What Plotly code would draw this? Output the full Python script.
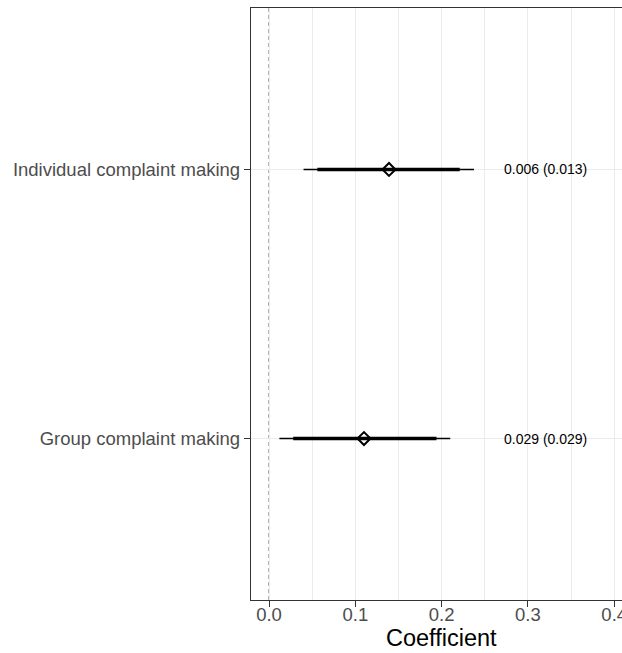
import plotly.graph_objects as go

# ---- data ----
categories = ["Group complaint making", "Individual complaint making"]
estimates = [0.110, 0.139]
ci_outer_low = [0.012, 0.040]
ci_outer_high = [0.210, 0.2375]
ci_inner_low = [0.028, 0.056]
ci_inner_high = [0.194, 0.221]
labels = ["0.029 (0.029)", "0.006 (0.013)"]
label_x = 0.32
x_ticks = [0.0, 0.1, 0.2, 0.3, 0.4]
x_tick_text = ["0.0", "0.1", "0.2", "0.3", "0.4"]

FONT = "Liberation Sans, Arial, sans-serif"

fig = go.Figure()

for i, cat in enumerate(categories):
    fig.add_trace(go.Scatter(
        x=[ci_outer_low[i], ci_outer_high[i]], y=[cat, cat], mode="lines",
        line=dict(color="black", width=1.5), showlegend=False, hoverinfo="skip"))
    fig.add_trace(go.Scatter(
        x=[ci_inner_low[i], ci_inner_high[i]], y=[cat, cat], mode="lines",
        line=dict(color="black", width=3.5), showlegend=False, hoverinfo="skip"))

fig.add_trace(go.Scatter(
    x=estimates, y=categories, mode="markers",
    marker=dict(symbol="diamond-open", size=10, color="black",
                line=dict(color="black", width=2)),
    showlegend=False))

for i, cat in enumerate(categories):
    fig.add_annotation(x=label_x, y=cat, xref="x", yref="y", text=labels[i],
                       showarrow=False, xanchor="center", yanchor="middle",
                       font=dict(family=FONT, size=14, color="black"))

# zero reference line
fig.add_shape(type="line", x0=0, x1=0, xref="x", y0=0, y1=1, yref="paper",
              line=dict(color="#999999", width=1.5, dash="4px,3px"), layer="below")

# x axis title (centered on the full, partly clipped panel)
fig.add_annotation(x=0.5148, y=-0.0642, xref="paper", yref="paper", text="Coefficient",
                   showarrow=False, xanchor="center", yanchor="middle",
                   font=dict(family=FONT, size=23.5, color="black"))

fig.update_layout(
    width=622, height=653,
    margin=dict(l=251, r=0, t=8, b=53, autoexpand=False),
    paper_bgcolor="white", plot_bgcolor="white",
    font=dict(family=FONT),
    dragmode=False,
    xaxis=dict(
        range=[-0.0209, 0.409], tickmode="array", tickvals=x_ticks, ticktext=x_tick_text,
        showgrid=True, gridcolor="#ebebeb", gridwidth=1.1,
        minor=dict(tickmode="array", tickvals=[0.05, 0.15, 0.25, 0.35],
                   showgrid=True, gridcolor="#ebebeb", gridwidth=0.6),
        zeroline=False, showline=True, mirror=True, linecolor="#333333", linewidth=1.3,
        ticks="outside", ticklen=6, tickcolor="#333333", tickwidth=1.1,
        tickfont=dict(family=FONT, size=18.5, color="#4d4d4d"),
        ticklabeloverflow="allow", ticklabelstandoff=-8,
        automargin=False),
    yaxis=dict(
        type="category", categoryorder="array", categoryarray=categories,
        range=[-0.6, 1.6],
        showgrid=True, gridcolor="#ebebeb", gridwidth=1.1,
        zeroline=False, showline=True, mirror=False, linecolor="#333333", linewidth=1.3,
        ticks="outside", ticklen=6, tickcolor="#333333", tickwidth=1.1,
        tickfont=dict(family=FONT, size=18.5, color="#4d4d4d"),
        automargin=False),
)

fig.write_html("out.html")
